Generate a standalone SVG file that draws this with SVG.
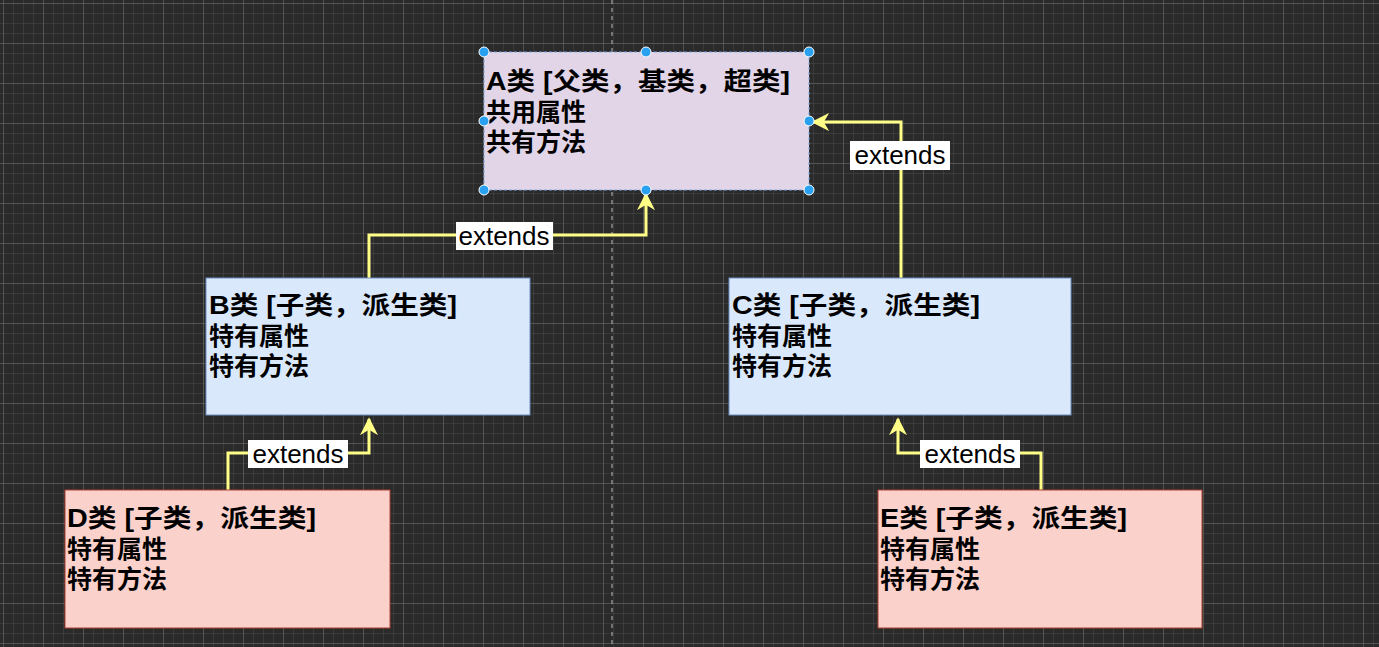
<svg xmlns="http://www.w3.org/2000/svg" width="1379" height="647" viewBox="0 0 1379 647">
<defs>
<pattern id="minor" width="10" height="10" patternUnits="userSpaceOnUse" x="4" y="4">
<path d="M10 0V10M0 10H10" fill="none" stroke="#4c4c4c" stroke-width="1"/>
</pattern>
<pattern id="major" width="40" height="40" patternUnits="userSpaceOnUse" x="4" y="4">
<path d="M40 0V40M0 40H40" fill="none" stroke="#6a6a6a" stroke-width="1"/>
</pattern>
<marker id="arr" viewBox="0 0 10 10" refX="9" refY="5" markerWidth="6" markerHeight="6" orient="auto">
<path d="M0 0L10 5L0 10L3 5Z" fill="#ffff88"/>
</marker>
<style>
.t{font-family:"Liberation Sans","Noto Sans CJK SC",sans-serif;font-weight:bold;fill:#000}
.h{font-size:25px}.l{font-size:25px}
.c{fill:none;stroke:#ffff88;stroke-width:3;marker-end:url(#arr)}
.lb{fill:#fff}
.lt{font-family:"Liberation Sans",Arial,sans-serif;font-size:26px;fill:#000;text-anchor:middle}
.hd{fill:#29a1f0;stroke:#fff;stroke-width:1}
</style>
</defs>
<rect width="1379" height="647" fill="#2a2a2a"/>
<rect width="1379" height="647" fill="url(#minor)"/>
<rect width="1379" height="647" fill="url(#major)"/>
<line x1="612" y1="0" x2="612" y2="647" stroke="#bbb" stroke-dasharray="4 4"/>
<g id="connectors">
<path class="c" d="M369 278V235H646V194"/>
<path class="c" d="M901 278V122H813"/>
<path class="c" d="M228 490V453H369V419"/>
<path class="c" d="M1041 490V453H898V419"/>
<rect class="lb" x="456" y="222" width="97" height="28"/><text class="lt" x="504" y="245">extends</text>
<rect class="lb" x="850" y="141" width="100" height="29"/><text class="lt" x="900" y="164">extends</text>
<rect class="lb" x="248" y="440" width="100" height="28"/><text class="lt" x="298" y="463">extends</text>
<rect class="lb" x="920" y="440" width="100" height="28"/><text class="lt" x="970" y="463">extends</text>
</g>
<g id="A">
<rect x="484" y="52" width="325" height="138" fill="#e1d5e7" stroke="#7ea6e0" stroke-dasharray="3 2"/>
<text class="t h" x="486" y="90" textLength="304" lengthAdjust="spacingAndGlyphs">A类 [父类，基类，超类]</text>
<text class="t l" x="486" y="121">共用属性</text>
<text class="t l" x="486" y="151">共有方法</text>
<circle class="hd" cx="484" cy="52" r="5"/><circle class="hd" cx="646" cy="52" r="5"/><circle class="hd" cx="809" cy="52" r="5"/>
<circle class="hd" cx="484" cy="121" r="5"/><circle class="hd" cx="809" cy="121" r="5"/>
<circle class="hd" cx="484" cy="190" r="5"/><circle class="hd" cx="646" cy="190" r="5"/><circle class="hd" cx="809" cy="190" r="5"/>
</g>
<g id="B">
<rect x="206" y="278" width="324" height="137" fill="#dae8fc" stroke="#6c8ebf"/>
<text class="t h" x="209" y="314" textLength="248" lengthAdjust="spacingAndGlyphs">B类 [子类，派生类]</text>
<text class="t l" x="209" y="345">特有属性</text>
<text class="t l" x="209" y="375">特有方法</text>
</g>
<g id="C">
<rect x="729" y="278" width="342" height="137" fill="#dae8fc" stroke="#6c8ebf"/>
<text class="t h" x="732" y="314" textLength="248" lengthAdjust="spacingAndGlyphs">C类 [子类，派生类]</text>
<text class="t l" x="732" y="345">特有属性</text>
<text class="t l" x="732" y="375">特有方法</text>
</g>
<g id="D">
<rect x="65" y="490" width="325" height="138" fill="#fad1cb" stroke="#ae4132"/>
<text class="t h" x="67" y="527" textLength="249" lengthAdjust="spacingAndGlyphs">D类 [子类，派生类]</text>
<text class="t l" x="67" y="558">特有属性</text>
<text class="t l" x="67" y="588">特有方法</text>
</g>
<g id="E">
<rect x="878" y="490" width="324" height="138" fill="#fad1cb" stroke="#ae4132"/>
<text class="t h" x="880" y="527" textLength="247" lengthAdjust="spacingAndGlyphs">E类 [子类，派生类]</text>
<text class="t l" x="880" y="558">特有属性</text>
<text class="t l" x="880" y="588">特有方法</text>
</g>
</svg>
